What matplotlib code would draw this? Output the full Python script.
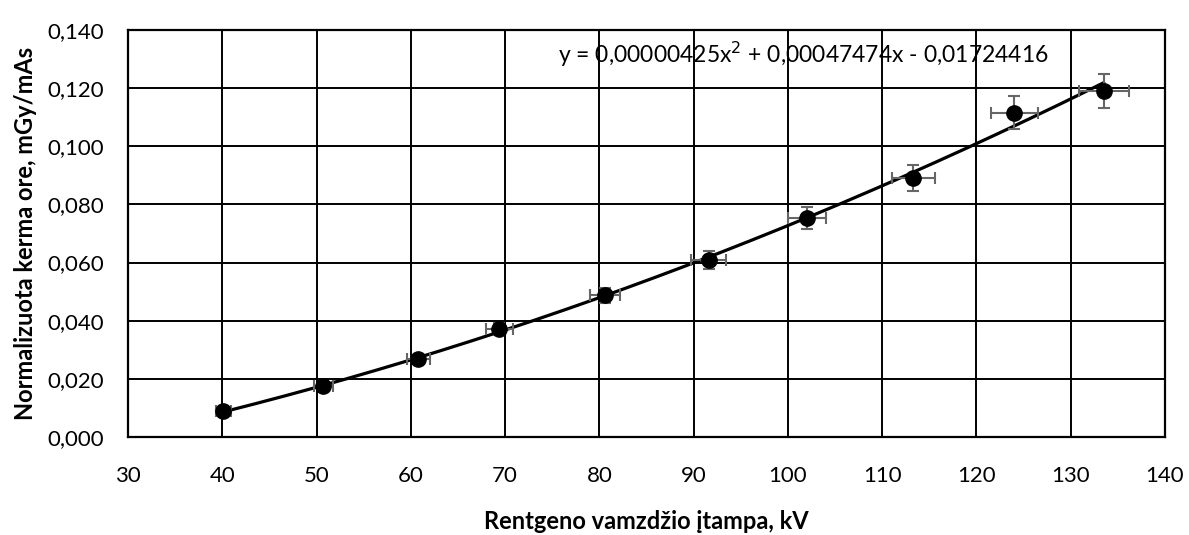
import matplotlib
matplotlib.use("Agg")
import matplotlib.pyplot as plt
import numpy as np
from matplotlib.ticker import FuncFormatter, MultipleLocator

plt.rcParams['font.family'] = ['Lato', 'DejaVu Sans']

# Data
kv = [40.1, 50.7, 60.8, 69.4, 80.6, 91.6, 102.0, 113.3, 124.0, 133.5]
kerma = [0.0089, 0.0175, 0.0270, 0.0372, 0.0487, 0.0610, 0.0753, 0.0891, 0.1116, 0.1190]
kv_err = [0.80, 1.01, 1.22, 1.39, 1.61, 1.83, 2.04, 2.27, 2.48, 2.67]
kerma_err = [0.00045, 0.00088, 0.00135, 0.00186, 0.00244, 0.00305, 0.00377, 0.00446, 0.00558, 0.00595]

# Trendline coefficients (as printed in the chart)
coef = [0.00000425, 0.00047474, -0.01724416]
eq_text = "y = 0,00000425x$^2$ + 0,00047474x - 0,01724416"

xlabel = "Rentgeno vamzdžio įtampa, kV"
ylabel = "Normalizuota kerma ore, mGy/mAs"

fig = plt.figure(figsize=(11.89, 5.35), dpi=100)
ax = fig.add_axes([0.1077, 0.1832, 0.8721, 0.7607])

ax.set_xlim(30, 140)
ax.set_ylim(0, 0.140)
ax.xaxis.set_major_locator(MultipleLocator(10))
ax.yaxis.set_major_locator(MultipleLocator(0.02))
ax.yaxis.set_major_formatter(FuncFormatter(lambda v, p: f"{v:.3f}".replace('.', ',')))

ax.grid(True, color='black', linewidth=1.4)
ax.set_axisbelow(True)
for s in ax.spines.values():
    s.set_color('black')
    s.set_linewidth(1.6)
ax.tick_params(length=0, labelsize=16)
ax.tick_params(axis='y', pad=17)
ax.tick_params(axis='x', pad=21)

xs = np.linspace(kv[0], kv[-1], 200)
ax.plot(xs, np.polyval(coef, xs), color='black', linewidth=2.3, zorder=3)

ax.errorbar(kv, kerma, xerr=kv_err, yerr=kerma_err, fmt='none', ecolor='#666666',
            elinewidth=1.5, capsize=4, capthick=1.5, zorder=4)
ax.plot(kv, kerma, 'o', color='black', markersize=11, zorder=5)

ax.text(75.6, 0.1315, eq_text, fontsize=16.5, va='center', ha='left', zorder=6)

ax.set_xlabel(xlabel, fontsize=17, fontweight='bold', labelpad=17)
ax.set_ylabel(ylabel, fontsize=17, fontweight='bold', labelpad=8)

fig.savefig("out.png", dpi=100)
